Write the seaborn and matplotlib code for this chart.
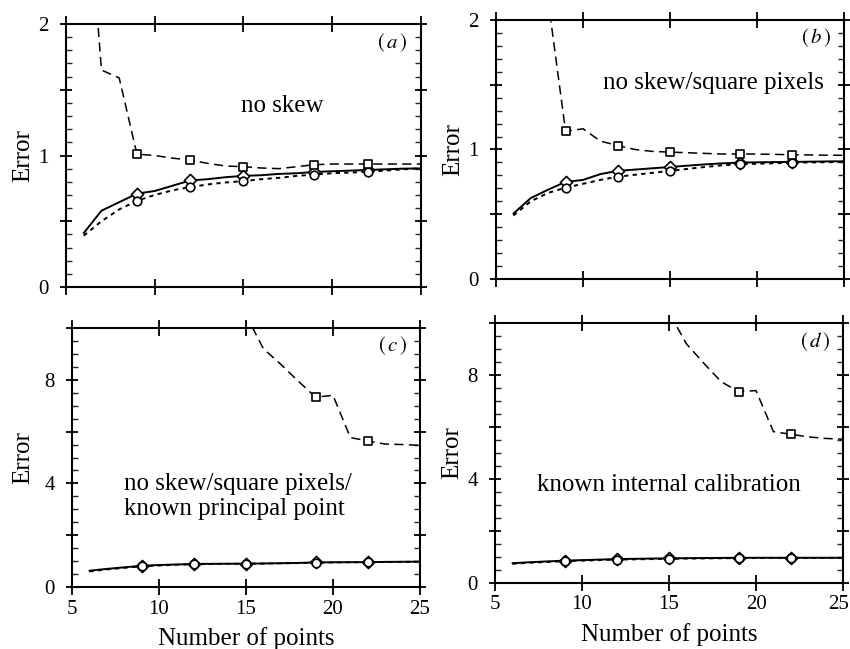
import numpy as np
import pandas as pd
import seaborn as sns
import matplotlib.pyplot as plt
from matplotlib.ticker import MultipleLocator, NullLocator, FuncFormatter

sns.set_style("ticks")
plt.rcParams['font.family'] = ['Liberation Serif', 'DejaVu Serif']
plt.rcParams['mathtext.fontset'] = 'stix'
plt.rcParams['text.color'] = 'black'
plt.rcParams['axes.labelcolor'] = 'black'

# number of points on the x axis, markers drawn at a subset of them
n_points = list(range(6, 26))
marker_points = [9, 12, 15, 19, 22]

# (a) no skew
a_dashed = [3.4, 1.65, 1.59, 1.01, 1.00, 0.98, 0.965, 0.94, 0.92, 0.915,
            0.905, 0.90, 0.915, 0.93, 0.935, 0.935, 0.935, 0.935, 0.935, 0.935]
a_solid = [0.41, 0.58, 0.645, 0.71, 0.73, 0.77, 0.81, 0.82, 0.835, 0.845,
           0.85, 0.86, 0.865, 0.875, 0.88, 0.885, 0.89, 0.895, 0.90, 0.902]
a_dotted = [0.39, 0.50, 0.59, 0.655, 0.70, 0.735, 0.76, 0.78, 0.795, 0.805,
            0.82, 0.83, 0.845, 0.855, 0.865, 0.87, 0.877, 0.885, 0.895, 0.902]

# (b) no skew/square pixels
b_dashed = [6.0, 4.0, 2.15, 1.14, 1.16, 1.065, 1.03, 1.00, 0.985, 0.98,
            0.975, 0.97, 0.965, 0.965, 0.965, 0.962, 0.96, 0.958, 0.956, 0.955]
b_solid = [0.505, 0.625, 0.69, 0.75, 0.765, 0.81, 0.835, 0.845, 0.855, 0.865,
           0.875, 0.885, 0.893, 0.899, 0.901, 0.903, 0.904, 0.906, 0.908, 0.909]
b_dotted = [0.49, 0.60, 0.665, 0.705, 0.735, 0.765, 0.79, 0.805, 0.82, 0.835,
            0.85, 0.865, 0.878, 0.886, 0.89, 0.894, 0.897, 0.90, 0.902, 0.904]

# (c) no skew/square pixels/known principal point
c_dashed = [40.0, 34.0, 28.0, 24.0, 20.0, 17.0, 14.5, 12.5, 11.5, 10.5,
            9.2, 8.6, 7.95, 7.33, 7.4, 5.77, 5.64, 5.52, 5.5, 5.47]
c_solid = [0.63, 0.70, 0.76, 0.82, 0.85, 0.87, 0.89, 0.895, 0.90, 0.90,
           0.91, 0.92, 0.93, 0.95, 0.955, 0.96, 0.96, 0.97, 0.975, 0.98]
c_dotted = [0.60, 0.68, 0.74, 0.80, 0.83, 0.86, 0.88, 0.89, 0.895, 0.90,
            0.905, 0.915, 0.925, 0.94, 0.95, 0.955, 0.96, 0.965, 0.97, 0.975]

# (d) known internal calibration
d_dashed = [40.0, 34.0, 28.0, 24.0, 20.0, 17.0, 14.5, 12.5, 11.4, 10.4,
            9.2, 8.45, 7.74, 7.36, 7.4, 5.82, 5.72, 5.62, 5.56, 5.53]
d_solid = [0.76, 0.80, 0.83, 0.86, 0.88, 0.90, 0.92, 0.93, 0.94, 0.95,
           0.955, 0.96, 0.965, 0.97, 0.97, 0.97, 0.97, 0.97, 0.97, 0.97]
d_dotted = [0.74, 0.78, 0.81, 0.84, 0.86, 0.88, 0.90, 0.91, 0.92, 0.93,
            0.94, 0.945, 0.95, 0.96, 0.962, 0.964, 0.965, 0.965, 0.965, 0.965]

panels = [
    dict(rect=[0.0776, 0.5578, 0.4176, 0.4052], dashed=a_dashed, solid=a_solid, dotted=a_dotted,
         ylim=2, major=0.5, minor=0.1, labels=[0, 1, 2], tag='a', bottom=False, ypad=3,
         note="no skew", note_xy=(17.2, 1.38), note_ha='center'),
    dict(rect=[0.5835, 0.5701, 0.4094, 0.3991], dashed=b_dashed, solid=b_solid, dotted=b_dotted,
         ylim=2, major=0.5, minor=0.1, labels=[0, 1, 2], tag='b', bottom=False, ypad=3,
         note="no skew/square pixels", note_xy=(17.5, 1.51), note_ha='center'),
    dict(rect=[0.0847, 0.0955, 0.4094, 0.3991], dashed=c_dashed, solid=c_solid, dotted=c_dotted,
         ylim=10, major=2, minor=0.5, labels=[0, 4, 8], tag='c', bottom=True, ypad=7,
         note="no skew/square pixels/\nknown principal point", note_xy=(8.0, 3.5), note_ha='left'),
    dict(rect=[0.5824, 0.1017, 0.4094, 0.4006], dashed=d_dashed, solid=d_solid, dotted=d_dotted,
         ylim=10, major=2, minor=0.5, labels=[0, 4, 8], tag='d', bottom=True, ypad=3,
         note="known internal calibration", note_xy=(15.0, 3.77), note_ha='center'),
]

fig = plt.figure(figsize=(8.5, 6.49), dpi=100)

for i, p in enumerate(panels):
    ax = fig.add_axes(p['rect'])
    styles = [
        (p['solid'], '-', 'D', 1.4),
        (p['dotted'], (0, (2.2, 2.2)), 'o', 1.4),
        (p['dashed'], (0, (6, 3.5)), 's', 1.1),
    ]
    for vals, ls, mk, lw in styles:
        sns.lineplot(x=n_points, y=vals, ax=ax, color='black', linestyle=ls, linewidth=lw)
        my = [vals[n_points.index(m)] for m in marker_points]
        sns.scatterplot(x=marker_points, y=my, ax=ax, marker=mk, s=38,
                        facecolor='white', edgecolor='black', linewidth=1.2, zorder=4)

    ax.set_xlim(5, 25)
    ax.set_ylim(0, p['ylim'])
    ax.xaxis.set_major_locator(MultipleLocator(5))
    ax.xaxis.set_minor_locator(NullLocator())
    ax.yaxis.set_major_locator(MultipleLocator(p['major']))
    ax.yaxis.set_minor_locator(MultipleLocator(p['minor']))
    labs = p['labels']
    ax.yaxis.set_major_formatter(FuncFormatter(
        lambda v, pos, labs=labs: f"{v:g}" if any(abs(v - l) < 1e-6 for l in labs) else ""))

    last_edge = (i == len(panels) - 1)
    if last_edge:
        # the rightmost "25" is drawn a little inwards so it stays on the canvas
        ax.xaxis.set_major_formatter(FuncFormatter(lambda v, pos: "" if v >= 25 else f"{v:g}"))
        ax.annotate("25", xy=(1, 0), xycoords='axes fraction', xytext=(-3.5, -9),
                    textcoords='offset points', ha='center', va='top', fontsize=15)

    for s in ax.spines.values():
        s.set_visible(True)
        s.set_linewidth(1.5)
        s.set_color('black')
    ax.tick_params(which='major', direction='inout', top=True, right=True,
                   width=1.3, labelsize=15, colors='black')
    ax.tick_params(axis='x', which='major', length=12, pad=3)
    ax.tick_params(axis='y', which='major', length=9, pad=8)
    ax.tick_params(axis='y', which='minor', direction='in', left=True, right=True,
                   length=4, width=1.0)
    ax.tick_params(axis='x', labelbottom=p['bottom'])

    ax.set_ylabel("Error", fontsize=18, labelpad=p['ypad'])
    if p['bottom']:
        ax.set_xlabel("Number of points", fontsize=18, labelpad=6)
    else:
        ax.set_xlabel("")

    ax.text(p['note_xy'][0], p['note_xy'][1], p['note'], fontsize=18,
            ha=p['note_ha'], va='center', linespacing=1.15)
    ax.text(0.92, 0.93, rf"$(\,{p['tag']}\,)$", transform=ax.transAxes,
            fontsize=15, ha='center', va='center')

fig.savefig("out.png", dpi=100)
